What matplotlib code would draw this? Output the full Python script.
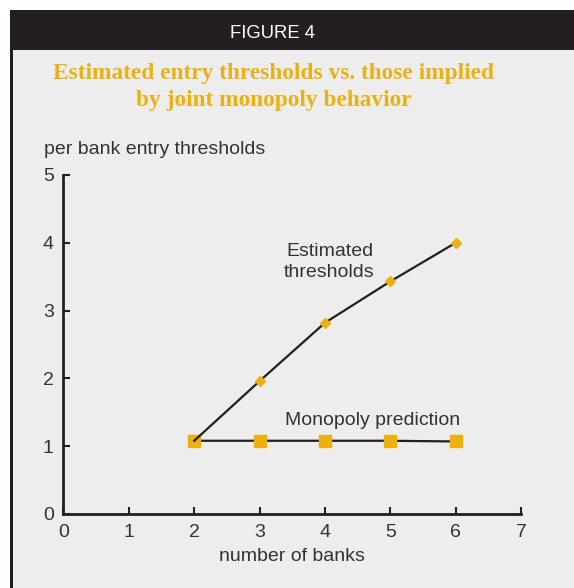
import numpy as np
import matplotlib
matplotlib.use("Agg")
import matplotlib.pyplot as plt
from matplotlib.patches import Rectangle

# data
banks = [2, 3, 4, 5, 6]
estimated = [1.08, 1.96, 2.82, 3.43, 4.0]
monopoly = [1.08, 1.08, 1.08, 1.08, 1.07]
xticks = [0, 1, 2, 3, 4, 5, 6, 7]
yticks = [0, 1, 2, 3, 4, 5]

gold = "#EDB10F"
ink = "#231F20"
grey = "#333333"
W, H = 574, 588
fs = 14

plt.rcParams['font.family'] = ['Liberation Sans', 'DejaVu Sans']

fig = plt.figure(figsize=(W / 100, H / 100), dpi=100)
fig.patch.set_facecolor("white")

# panel background, dark header band and left border
fig.patches.append(Rectangle((10 / W, 0), 1, 1 - 50 / H, transform=fig.transFigure,
                             facecolor="#ECEDEC", edgecolor="none", zorder=-3))
fig.patches.append(Rectangle((10 / W, 1 - 50 / H), 1, 40 / H, transform=fig.transFigure,
                             facecolor=ink, edgecolor="none", zorder=-2))
fig.patches.append(Rectangle((10 / W, 0), 3 / W, 1 - 10 / H, transform=fig.transFigure,
                             facecolor=ink, edgecolor="none", zorder=-2))

fig.text(272 / W, 1 - 33 / H, "FIGURE 4", color="white", fontsize=13.3,
         ha="center", va="center")
fig.text(274 / W, 1 - 87 / H, "Estimated entry thresholds vs. those implied\nby joint monopoly behavior",
         color=gold, fontsize=16.8, fontweight="bold", family="Liberation Serif",
         ha="center", va="center", linespacing=1.35)

ax = fig.add_axes([63.5 / W, 1 - 514 / H, (521 - 63.5) / W, (514 - 175) / H])
ax.set_facecolor("none")

ax.plot(banks, monopoly, color=ink, lw=1.6, marker="s", ms=9,
        mfc=gold, mec=gold, zorder=3, clip_on=False)
ax.plot(banks, estimated, color=ink, lw=1.6, marker="D", ms=5.5,
        mfc=gold, mec=gold, markevery=[1, 2, 3, 4], zorder=4, clip_on=False)

ax.text(4.07, 3.72, "Estimated\nthresholds", color=grey, fontsize=fs,
        ha="center", va="center", linespacing=1.3)
ax.text(4.73, 1.38, "Monopoly prediction", color=grey, fontsize=fs,
        ha="center", va="center")

ax.set_xlim(0, 7)
ax.set_ylim(0, 5)
ax.set_xticks(xticks)
ax.set_yticks(yticks)
for s in ["top", "right"]:
    ax.spines[s].set_visible(False)
for s in ["left", "bottom"]:
    ax.spines[s].set_color(ink)
    ax.spines[s].set_linewidth(2)
ax.tick_params(direction="in", length=5, width=1.5, color=ink,
               labelcolor=grey, labelsize=fs)
ax.tick_params(axis="x", pad=7)
ax.tick_params(axis="y", pad=7)

ax.set_xlabel("number of banks", color=grey, fontsize=fs, labelpad=5)
fig.text(44 / W, 1 - 149 / H, "per bank entry thresholds", color=grey,
         fontsize=fs, ha="left", va="center")

fig.savefig("out.png", dpi=100)
